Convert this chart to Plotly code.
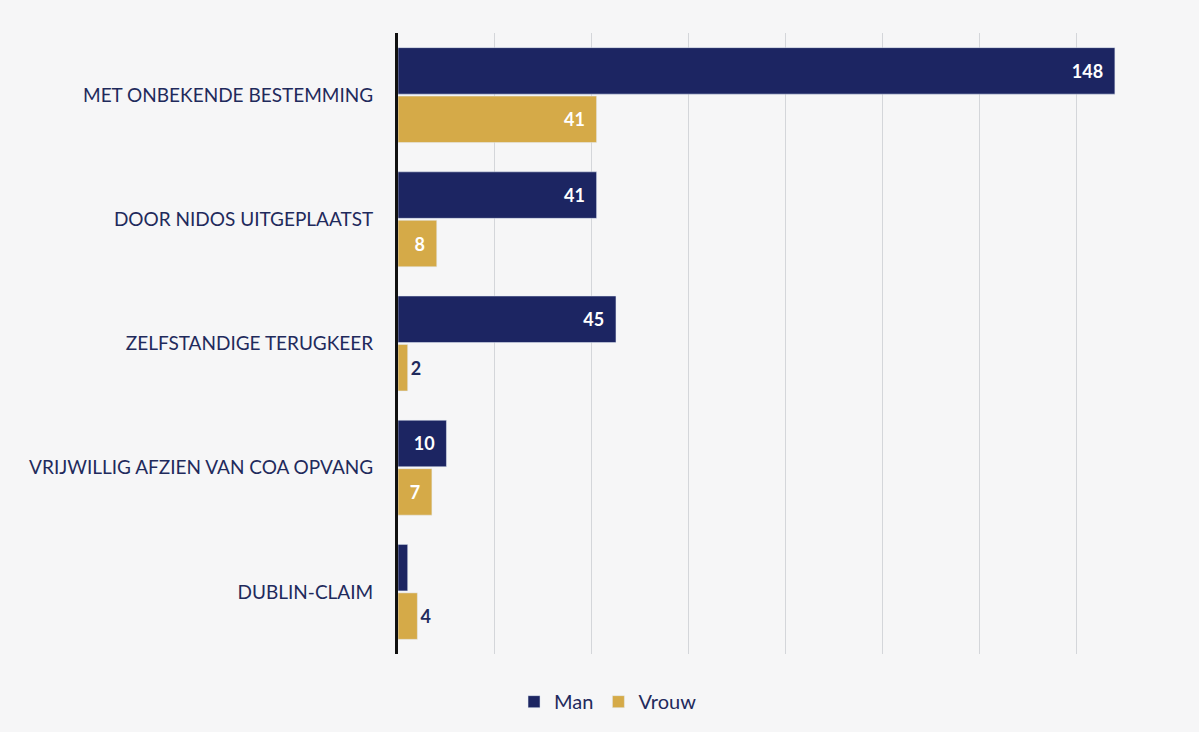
import plotly.graph_objects as go

categories = [
    "MET ONBEKENDE BESTEMMING",
    "DOOR NIDOS UITGEPLAATST",
    "ZELFSTANDIGE TERUGKEER",
    "VRIJWILLIG AFZIEN VAN COA OPVANG",
    "DUBLIN-CLAIM",
]
man = [148, 41, 45, 10, 2]
vrouw = [41, 8, 2, 7, 4]

NAVY = "#1c2562"
GOLD = "#d5aa48"
TEXT = "#1f2a5c"
FONT = "Lato, 'Open Sans', sans-serif"
PAD = "\u00a0\u00a0"

# Data labels: hidden for the tiny Dublin "Man" bar, outside for very short bars
man_text = [f"{v}{PAD}" for v in man[:4]] + [""]
vrouw_pos = ["inside" if v >= 5 else "outside" for v in vrouw]
vrouw_text = [f"{v}{PAD}" if p == "inside" else str(v) for v, p in zip(vrouw, vrouw_pos)]
vrouw_col = ["white" if p == "inside" else TEXT for p in vrouw_pos]

fig = go.Figure()
fig.add_trace(go.Bar(
    name="Man", y=categories, x=man, orientation="h",
    marker=dict(color=NAVY),
    text=man_text, textposition="inside", insidetextanchor="end",
    textfont=dict(color="white", size=18, family=FONT, weight="bold"),
    constraintext="none",
    hoverinfo="x+y",
))
fig.add_trace(go.Bar(
    name="Vrouw", y=categories, x=vrouw, orientation="h",
    marker=dict(color=GOLD),
    text=vrouw_text, textposition=vrouw_pos, insidetextanchor="end",
    textfont=dict(color=vrouw_col, size=18, family=FONT, weight="bold"),
    constraintext="none", cliponaxis=False,
    hoverinfo="x+y",
))

fig.update_layout(
    width=1199, height=732,
    barmode="group", bargap=0.22, bargroupgap=0.04,
    paper_bgcolor="#f6f6f7", plot_bgcolor="rgba(0,0,0,0)",
    margin=dict(l=398, r=26, t=33, b=77),
    font=dict(family=FONT, color=TEXT, size=19),
    legend=dict(orientation="h", x=0.271, xanchor="center", y=-0.075, yanchor="middle",
                font=dict(size=20, color=TEXT), traceorder="normal",
                itemwidth=30),
    showlegend=True,
)
fig.update_xaxes(range=[0, 160], dtick=20, showgrid=True, gridcolor="#d4d6da",
                 gridwidth=1, showticklabels=False, zeroline=False, ticks="")
fig.update_yaxes(autorange="reversed", showline=True, linecolor="#111111", linewidth=3,
                 ticks="", ticklabelstandoff=18, tickfont=dict(size=19, color=TEXT, family=FONT))

fig.write_html("out.html")
